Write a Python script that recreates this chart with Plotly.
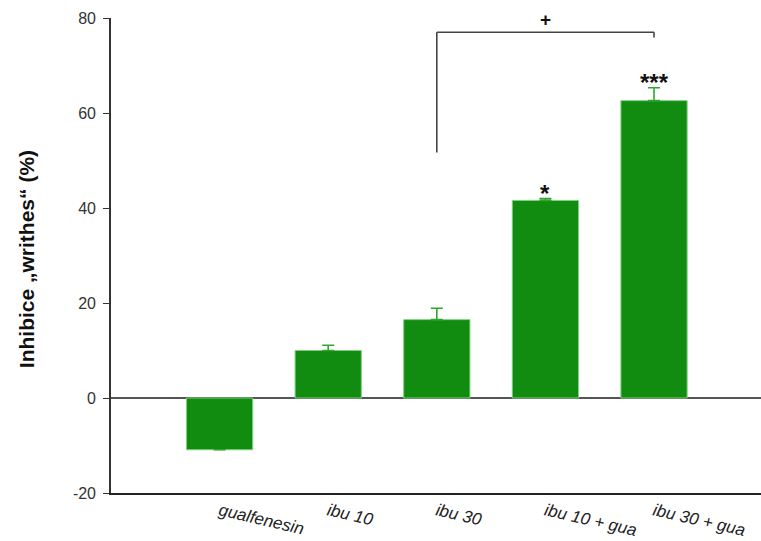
import plotly.graph_objects as go

# Group labels, mean inhibition (%) and upper SEM
groups = ["gualfenesin", "ibu 10", "ibu 30", "ibu 10 + gua", "ibu 30 + gua"]
inhibition = [-10.9, 10.0, 16.5, 41.6, 62.6]
sem_upper = [None, 1.1, 2.4, 0.4, 2.7]
significance = ["", "", "", "*", "***"]

# Y axis ticks
y_ticks = [-20, 0, 20, 40, 60, 80]
y_tick_text = ["-20", "0", "20", "40", "60", "80"]

# Comparison bracket: ibu 30 vs ibu 30 + gua
bracket_from = 3
bracket_to = 5
bracket_top = 77.0
bracket_left_bottom = 51.7
bracket_right_bottom = 75.9
bracket_mark = "+"

positions = list(range(1, len(groups) + 1))
bar_green = "#118c11"
font_family = "Liberation Sans, Arial"

fig = go.Figure()
fig.add_trace(go.Bar(
    x=positions,
    y=inhibition,
    width=0.61,
    marker=dict(color=bar_green, line=dict(color="#7fd07f", width=1)),
    error_y=dict(
        type="data",
        symmetric=False,
        array=sem_upper,
        arrayminus=[0] * len(sem_upper),
        color="#2fa52f",
        thickness=1.6,
        width=6,
    ),
    showlegend=False,
))

# Significance stars above the bars
for pos, val, err, mark in zip(positions, inhibition, sem_upper, significance):
    if mark:
        fig.add_annotation(
            x=pos, y=val + (err or 0), text="<b>" + mark + "</b>", showarrow=False,
            yanchor="bottom", yshift=-10,
            font=dict(family=font_family, size=24, color="#111"),
        )

# Bracket between the compared groups
line_style = dict(color="#444", width=1.6)
fig.add_shape(type="line", x0=bracket_from, x1=bracket_to, y0=bracket_top, y1=bracket_top, line=line_style)
fig.add_shape(type="line", x0=bracket_from, x1=bracket_from, y0=bracket_top, y1=bracket_left_bottom, line=line_style)
fig.add_shape(type="line", x0=bracket_to, x1=bracket_to, y0=bracket_top, y1=bracket_right_bottom, line=line_style)
fig.add_annotation(
    x=(bracket_from + bracket_to) / 2, y=bracket_top, text="<b>" + bracket_mark + "</b>",
    showarrow=False, yanchor="bottom", yshift=0,
    font=dict(family=font_family, size=19, color="#111"),
)

# Y axis title
fig.add_annotation(
    xref="paper", yref="paper", x=-0.131, y=0.492,
    text="<b>Inhibice „writhes“ (%)</b>", textangle=-90, showarrow=False,
    xanchor="center", yanchor="middle",
    font=dict(family=font_family, size=21, color="#111"),
)

fig.update_layout(
    width=761, height=541,
    margin=dict(l=111, r=0, t=18, b=48),
    plot_bgcolor="white", paper_bgcolor="white",
    bargap=0.39,
    xaxis=dict(
        range=[0, 5.985],
        tickmode="array", tickvals=positions, ticktext=["<i>" + g + "</i>" for g in groups],
        tickangle=13, ticks="", showgrid=False, zeroline=False,
        showline=True, linecolor="#222", linewidth=1.6,
        tickfont=dict(family=font_family, size=17, color="#222"),
    ),
    yaxis=dict(
        range=[-20, 80], tickmode="array", tickvals=y_ticks, ticktext=y_tick_text,
        ticks="outside", ticklen=6, tickcolor="#333", tickwidth=1.4,
        ticklabelstandoff=4,
        showgrid=False, showline=True, linecolor="#333", linewidth=1.6,
        zeroline=True, zerolinecolor="#555", zerolinewidth=1.6,
        tickfont=dict(family=font_family, size=16, color="#333"),
    ),
)

fig.write_html("out.html")
